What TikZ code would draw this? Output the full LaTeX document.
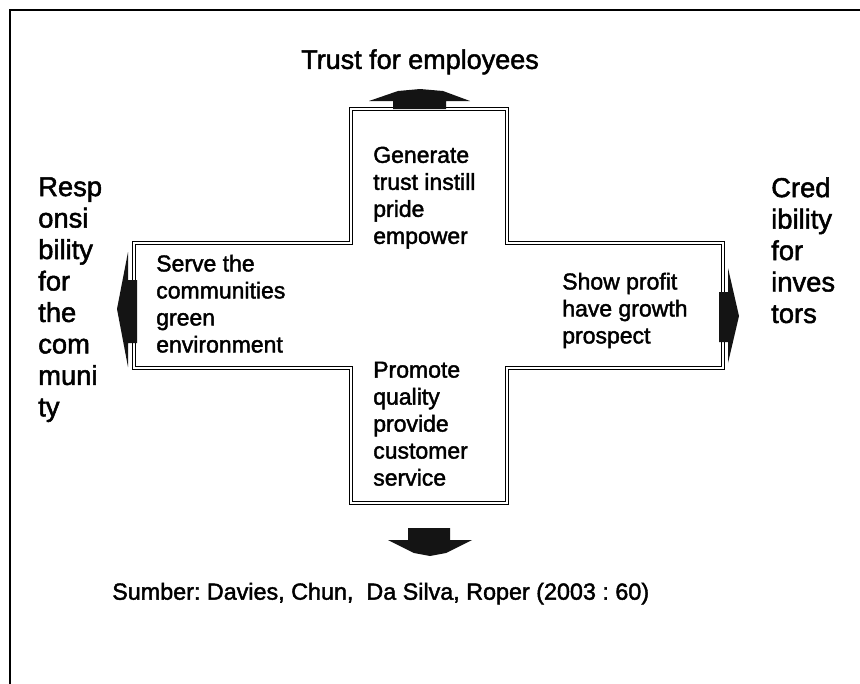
\documentclass[tikz,border=0pt]{standalone}
\usepackage{fontspec}
\setmainfont[FakeBold=1.8]{Liberation Sans}
\frenchspacing
\begin{document}
\begin{tikzpicture}[x=0.75pt,y=-0.75pt,
  armtext/.style={anchor=north west,inner sep=0pt,align=left,
    font=\fontsize{17.25}{20.25}\selectfont},
  sidetext/.style={anchor=north west,inner sep=0pt,align=left,
    font=\fontsize{20.5}{23.6}\selectfont},
  crossline/.style={draw=black,line width=0.9pt,double=white,
    double distance=1.1pt,line join=miter},
  blockarrow/.style={fill=black!92,draw=none}]
\useasboundingbox (0,0) rectangle (860,683);
\clip (0,0) rectangle (860,683);
\fill[white] (0,0) rectangle (860,683);

% outer frame (runs past the right and bottom edges)
\draw[line width=1.6pt] (10,720) -- (10,10) -- (900,10);

% the cross
\draw[crossline] (351,109) -- (507,109) -- (507,243) -- (723,243)
  -- (723,368) -- (507,368) -- (507,503) -- (351,503) -- (351,368)
  -- (134,368) -- (134,243) -- (351,243) -- cycle;

% anchor points of the four block arrows
\coordinate (upTip) at (420,89);
\coordinate (downTip) at (430,556);
\coordinate (leftTip) at (117,309);
\coordinate (rightTip) at (739,316);

% up arrow
\fill[blockarrow] (393,109) -- (393,101) -- (369,101) -- (398,91)
  -- (upTip) -- (443,91) -- (470,101) -- (446,101) -- (446,109) -- cycle;
% down arrow
\fill[blockarrow] (408,528) -- (450,528) -- (450,540) -- (472,540)
  -- (446,553) -- (downTip) -- (414,553) -- (388,540) -- (408,540) -- cycle;
% left arrow
\fill[blockarrow] (137,280) -- (128,280) -- (128,252) -- (leftTip)
  -- (128,367) -- (128,343) -- (137,343) -- cycle;
% right arrow
\fill[blockarrow] (719,292) -- (728,292) -- (728,268) -- (rightTip)
  -- (728,363) -- (728,342) -- (719,342) -- cycle;

% headings
\node[anchor=north,inner sep=0pt,font=\fontsize{20.25}{24}\selectfont]
  (title) at (420,49) {Trust for employees};
\node[sidetext] (labelLeft) at (38,177)
  {Resp\\onsi\\bility\\for\\the\\com\\muni\\ty};
\node[sidetext] (labelRight) at (771,177)
  {Cred\\ibility\\for\\inves\\tors};

% texts inside the arms
\node[armtext] (armTop) at (373,146.5)
  {Generate\\trust instill\\pride\\empower};
\node[armtext] (armLeft) at (156,254.5)
  {Serve the\\communities\\green\\environment};
\node[armtext] (armRight) at (562,272.5)
  {Show profit\\have growth\\prospect};
\node[armtext] (armBottom) at (373,361.5)
  {Promote\\quality\\provide\\customer\\service};

% source line
\node[anchor=north west,inner sep=0pt,font=\fontsize{17.5}{21}\selectfont]
  (source) at (112,582.5) {Sumber: Davies, Chun,\ \ Da Silva, Roper (2003 : 60)};
\end{tikzpicture}
\end{document}
